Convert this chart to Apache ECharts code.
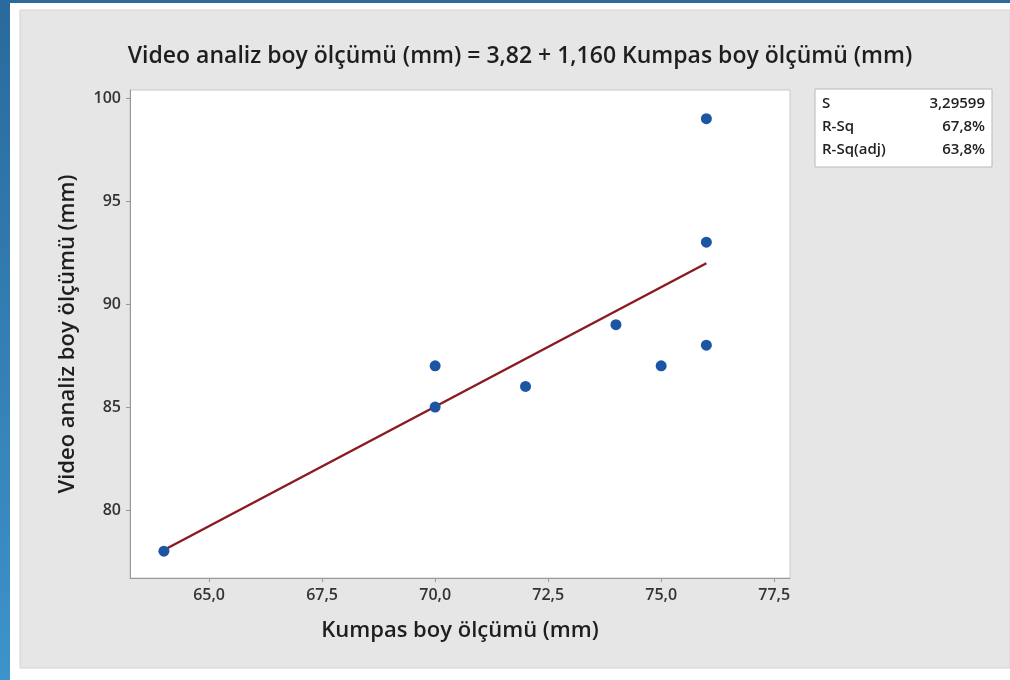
<!DOCTYPE html>
<html>
<head>
<meta charset="utf-8">
<script src="https://cdn.jsdelivr.net/npm/echarts@6/dist/echarts.min.js"></script>
<style>
html,body{margin:0;padding:0;background:#fff;}
#c{width:1010px;height:680px;}
</style>
</head>
<body>
<div id="c"></div>
<script>
const titleText = 'Video analiz boy ölçümü (mm) = 3,82 + 1,160 Kumpas boy ölçümü (mm)';
const xName = 'Kumpas boy ölçümü (mm)';
const yName = 'Video analiz boy ölçümü (mm)';
const pointX = [64, 70, 70, 72, 74, 75, 76, 76, 76];
const pointY = [78, 87, 85, 86, 89, 87, 99, 93, 88];
const fitX = [64, 76];
const fitY = [78.06, 91.98];
const statLabels = ['S', 'R-Sq', 'R-Sq(adj)'];
const statValues = ['3,29599', '67,8%', '63,8%'];
const xTicks = [65.0, 67.5, 70.0, 72.5, 75.0, 77.5];
const yTicks = [80, 85, 90, 95, 100];

const chart = echarts.init(document.getElementById('c'), null, {renderer: 'canvas'});
const font = '"Open Sans", "Noto Sans", sans-serif';
const fmt = v => v.toFixed(1).replace('.', ',');

const statGraphics = [];
statLabels.forEach((l, i) => {
  statGraphics.push({type: 'text', x: 822, y: 104 + i * 23, z: 10,
    style: {text: l, font: '600 15px ' + font, fill: '#222', textVerticalAlign: 'middle'}});
  statGraphics.push({type: 'text', x: 985, y: 104 + i * 23, z: 10,
    style: {text: statValues[i], font: '600 15px ' + font, fill: '#222', textAlign: 'right', textVerticalAlign: 'middle'}});
});

chart.setOption({
  animation: false,
  backgroundColor: '#ffffff',
  textStyle: {fontFamily: font},
  graphic: [
    {type: 'rect', shape: {x: 0, y: 0, width: 10, height: 680}, z: -10,
      style: {fill: new echarts.graphic.LinearGradient(0, 0, 0, 1, [{offset: 0, color: '#2a6a9c'}, {offset: 1, color: '#3d93cb'}])}},
    {type: 'rect', shape: {x: 0, y: 0, width: 1010, height: 3}, z: -10, style: {fill: '#2a6a9c'}},
    {type: 'rect', shape: {x: 20, y: 10, width: 990, height: 658}, z: -9,
      style: {fill: '#e6e6e6', stroke: '#d4d4d4', lineWidth: 1}},
    {type: 'rect', shape: {x: 815, y: 89, width: 177, height: 78}, z: 9,
      style: {fill: '#ffffff', stroke: '#b8b8b8', lineWidth: 1}}
  ].concat(statGraphics),
  title: {
    text: titleText, left: 515, top: 40, textAlign: 'center',
    textStyle: {fontFamily: font, fontSize: 23, fontWeight: 600, color: '#1e1e1e'}
  },
  grid: {left: 130, top: 90, right: 220, bottom: 102, show: true,
    backgroundColor: '#ffffff', borderColor: '#c8c8c8', borderWidth: 1},
  xAxis: {
    type: 'value', min: 63.25, max: 77.85,
    name: xName, nameLocation: 'middle', nameGap: 42,
    nameTextStyle: {fontFamily: font, fontSize: 22, fontWeight: 600, color: '#1e1e1e'},
    axisLine: {show: true, lineStyle: {color: '#999'}},
    axisTick: {show: true, length: 4, lineStyle: {color: '#999'}, customValues: xTicks},
    axisLabel: {color: '#333', fontSize: 16, fontWeight: 600, fontFamily: font, customValues: xTicks, formatter: v => fmt(v), margin: 9},
    splitLine: {show: false}
  },
  yAxis: {
    type: 'value', min: 76.7, max: 100.39,
    name: yName, nameLocation: 'middle', nameGap: 51, nameRotate: 90,
    nameTextStyle: {fontFamily: font, fontSize: 22, fontWeight: 600, color: '#1e1e1e'},
    axisLine: {show: true, lineStyle: {color: '#999'}},
    axisTick: {show: true, length: 4, lineStyle: {color: '#999'}, customValues: yTicks},
    axisLabel: {color: '#333', fontSize: 16, fontWeight: 600, fontFamily: font, customValues: yTicks, margin: 9},
    splitLine: {show: false}
  },
  series: [
    {type: 'line', data: fitX.map((x, i) => [x, fitY[i]]), symbol: 'none',
      lineStyle: {color: '#8b1a22', width: 2.5}, z: 2},
    {type: 'scatter', data: pointX.map((x, i) => [x, pointY[i]]), symbol: 'circle', symbolSize: 11,
      itemStyle: {color: '#1b55a3', opacity: 1}, z: 3}
  ]
});
</script>
</body>
</html>
